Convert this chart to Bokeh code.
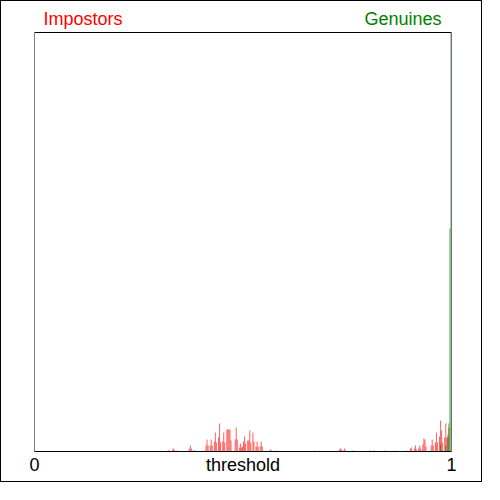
from bokeh.plotting import figure
from bokeh.models import Range1d, FixedTicker
from bokeh.core.properties import value
from bokeh.embed import file_html
from bokeh.resources import INLINE

# Histogram bins (left edge of each bin, on the threshold axis 0..1)
BIN_WIDTH = 0.0025

impostor_thr = [0.3, 0.32, 0.3225, 0.33, 0.3325, 0.335, 0.34, 0.37, 0.3725, 0.375,
                0.38, 0.3825, 0.4025, 0.41, 0.4125, 0.415, 0.42, 0.4225, 0.425, 0.43,
                0.4325, 0.435, 0.44, 0.4425, 0.445, 0.45, 0.4525, 0.455, 0.46, 0.4625,
                0.465, 0.4675, 0.47, 0.48, 0.4825, 0.485, 0.49, 0.4925, 0.495, 0.4975,
                0.5, 0.5025, 0.505, 0.51, 0.5125, 0.515, 0.5175, 0.5225, 0.525, 0.53,
                0.5325, 0.535, 0.54, 0.5425, 0.545, 0.5625, 0.565, 0.5675, 0.5775, 0.67,
                0.73, 0.7325, 0.735, 0.74, 0.7425, 0.745, 0.7625, 0.8025, 0.8125, 0.84,
                0.8625, 0.89, 0.9, 0.9025, 0.91, 0.9125, 0.915, 0.92, 0.9225, 0.925,
                0.93, 0.9325, 0.935, 0.9375, 0.95, 0.9525, 0.955, 0.96, 0.9625, 0.965,
                0.97, 0.9725, 0.975, 0.9775, 0.9825, 0.985, 0.9875, 0.99, 0.9925]
impostor_cnt = [1, 1, 1, 2, 3, 1, 1, 3, 6, 3,
                1, 1, 1, 6, 12, 6, 6, 12, 6, 10,
                19, 9, 14, 28, 9, 10, 19, 9, 22, 22,
                22, 22, 11, 12, 24, 12, 4, 8, 4, 5,
                10, 15, 8, 11, 11, 21, 9, 19, 10, 5,
                10, 5, 5, 10, 5, 1, 2, 1, 1, 1,
                2, 3, 2, 1, 3, 1, 1, 1, 1, 1,
                1, 1, 3, 4, 3, 6, 2, 3, 6, 3,
                7, 13, 12, 5, 6, 12, 6, 9, 19, 9,
                15, 31, 21, 9, 14, 28, 14, 14, 24]

genuine_thr = [0.9725, 0.985, 0.99, 0.9925, 0.995, 0.9975]
genuine_cnt = [7, 6, 17, 28, 223, 419]

x_ticks = [0, 0.5, 1]
x_tick_labels = {0: "0", 0.5: "threshold", 1: "1"}
series_names = ["Impostors", "Genuines"]

FONT = "Liberation Sans"
FS = "18px"

y_top = max(genuine_cnt)
LABEL_GAP = 14  # space between the series names and the plot box, in count units (1 px each)

p = figure(width=482, height=482, output_backend="svg", toolbar_location=None,
           x_range=Range1d(0, 1), y_range=Range1d(0, y_top + 31),
           min_border_left=33, min_border_right=32, min_border_top=0, min_border_bottom=32)
p.styles = {"border": "1px solid black"}
p.outline_line_color = None
p.xgrid.visible = False
p.ygrid.visible = False
p.yaxis.visible = False

p.quad(left=impostor_thr, right=[t + BIN_WIDTH for t in impostor_thr],
       bottom=0, top=impostor_cnt, fill_color="red", fill_alpha=0.6, line_color=None)
p.quad(left=genuine_thr, right=[t + BIN_WIDTH for t in genuine_thr],
       bottom=0, top=genuine_cnt, fill_color="green", fill_alpha=0.6, line_color=None)

# plot box (frame of the histogram area)
p.quad(left=0, right=1, bottom=0, top=y_top, fill_color=None,
       line_color="black", line_width=1)

p.text(x=[0], y=[y_top + LABEL_GAP], text=[series_names[0]], x_offset=9,
       text_color="red", text_font=value(FONT), text_font_size=FS,
       text_align="left", text_baseline="alphabetic")
p.text(x=[1], y=[y_top + LABEL_GAP], text=[series_names[1]], x_offset=-10,
       text_color="green", text_font=value(FONT), text_font_size=FS,
       text_align="right", text_baseline="alphabetic")

ax = p.xaxis[0]
ax.ticker = FixedTicker(ticks=x_ticks)
ax.major_label_overrides = x_tick_labels
ax.major_tick_in = 0
ax.major_tick_out = 0
ax.minor_tick_in = 0
ax.minor_tick_out = 0
ax.major_label_standoff = 3
ax.major_label_text_font = FONT
ax.major_label_text_font_size = FS
ax.major_label_text_color = "black"
ax.axis_line_color = "black"

open("out.html", "w").write(file_html(p, INLINE))
